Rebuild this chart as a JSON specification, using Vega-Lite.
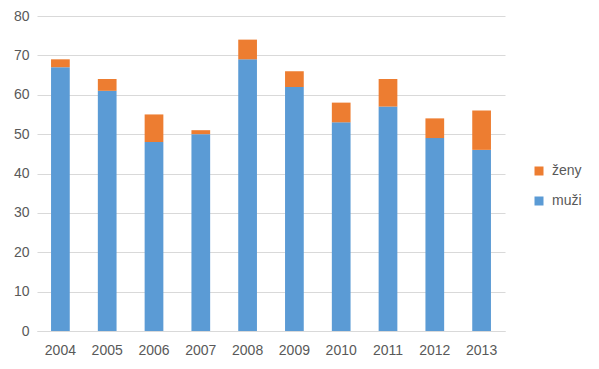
{
  "$schema": "https://vega.github.io/schema/vega-lite/v6.json",
  "width": 468,
  "height": 315,
  "autosize": {"type": "none"},
  "padding": {"left": 37, "top": 16, "right": 94, "bottom": 38},
  "background": "white",
  "data": {"values": [
    {"rok": "2004", "pohlavi": "muži", "pocet": 67}, {"rok": "2004", "pohlavi": "ženy", "pocet": 2},
    {"rok": "2005", "pohlavi": "muži", "pocet": 61}, {"rok": "2005", "pohlavi": "ženy", "pocet": 3},
    {"rok": "2006", "pohlavi": "muži", "pocet": 48}, {"rok": "2006", "pohlavi": "ženy", "pocet": 7},
    {"rok": "2007", "pohlavi": "muži", "pocet": 50}, {"rok": "2007", "pohlavi": "ženy", "pocet": 1},
    {"rok": "2008", "pohlavi": "muži", "pocet": 69}, {"rok": "2008", "pohlavi": "ženy", "pocet": 5},
    {"rok": "2009", "pohlavi": "muži", "pocet": 62}, {"rok": "2009", "pohlavi": "ženy", "pocet": 4},
    {"rok": "2010", "pohlavi": "muži", "pocet": 53}, {"rok": "2010", "pohlavi": "ženy", "pocet": 5},
    {"rok": "2011", "pohlavi": "muži", "pocet": 57}, {"rok": "2011", "pohlavi": "ženy", "pocet": 7},
    {"rok": "2012", "pohlavi": "muži", "pocet": 49}, {"rok": "2012", "pohlavi": "ženy", "pocet": 5},
    {"rok": "2013", "pohlavi": "muži", "pocet": 46}, {"rok": "2013", "pohlavi": "ženy", "pocet": 10}
  ]},
  "mark": {"type": "bar"},
  "encoding": {
    "x": {
      "field": "rok", "type": "ordinal",
      "scale": {"paddingInner": 0.6, "paddingOuter": 0.3},
      "axis": {"title": null, "labelAngle": 0, "ticks": false, "domainColor": "#D9D9D9", "labelPadding": 12}
    },
    "y": {
      "field": "pocet", "type": "quantitative", "stack": "zero",
      "scale": {"domain": [0, 80], "nice": false},
      "axis": {"title": null, "values": [0,10,20,30,40,50,60,70,80], "ticks": false, "domain": false, "gridColor": "#D9D9D9", "labelPadding": 8}
    },
    "color": {
      "field": "pohlavi", "type": "nominal",
      "scale": {"domain": ["ženy", "muži"], "range": ["#ED7D31", "#5B9BD5"]},
      "legend": {"title": null, "orient": "none", "legendX": 495, "legendY": 148, "symbolType": "square", "symbolSize": 81, "symbolStrokeWidth": 0, "rowPadding": 16, "labelFontSize": 14, "labelColor": "#595959", "labelFont": "Liberation Sans", "labelOffset": 6}
    },
    "order": {"field": "pohlavi", "sort": "ascending"}
  },
  "config": {
    "view": {"stroke": null},
    "axis": {"labelFont": "Liberation Sans", "labelFontSize": 14, "labelColor": "#595959", "gridWidth": 1}
  }
}
